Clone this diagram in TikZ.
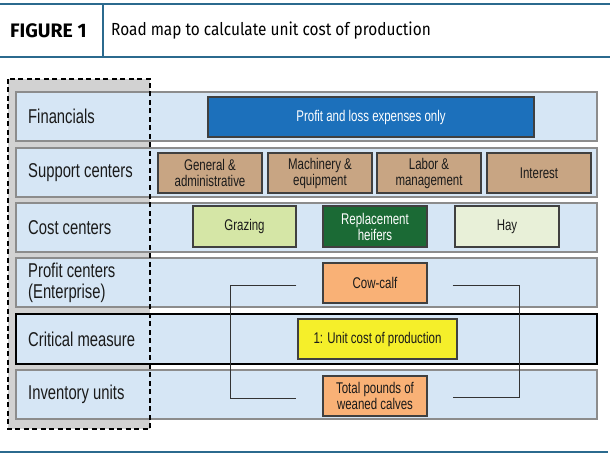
\documentclass[tikz,border=0pt]{standalone}
\usepackage{fontspec}
\setmainfont{Liberation Sans}[FakeStretch=0.74]
\newfontfamily\headfont{Fira Sans}
\newfontfamily\titlefont{Fira Sans}[FakeStretch=0.88]
\usepackage{tikz}
\usetikzlibrary{positioning,calc}
\definecolor{headline}{HTML}{2B6A8E}
\definecolor{rowfill}{HTML}{D6E6F5}
\definecolor{rowedge}{HTML}{8C8C8C}
\definecolor{colgray}{HTML}{D2D2D2}
\definecolor{finblue}{HTML}{1C70BB}
\definecolor{tan}{HTML}{C8A583}
\definecolor{grazegreen}{HTML}{D5E6A6}
\definecolor{heifgreen}{HTML}{1B6A35}
\definecolor{haygreen}{HTML}{E8F0D8}
\definecolor{cowor}{HTML}{F9B176}
\definecolor{measyel}{HTML}{F5EF2A}
\definecolor{ink}{HTML}{1A1A1A}
\tikzset{
    row/.style={draw=rowedge, line width=1.5pt, fill=rowfill, minimum width=581pt, minimum height=49pt, inner sep=0pt},
    rowcrit/.style={row, draw=black, line width=2.4pt, minimum height=50pt},
    rowlabel/.style={anchor=west, align=left, text=ink, font=\fontsize{20}{21}\selectfont, inner sep=0pt},
    box/.style={draw=black!75, line width=1.2pt, minimum width=104pt, minimum height=40pt, inner sep=0pt, align=center, text=ink, font=\fontsize{15.5}{16}\selectfont},
    boxW/.style={box, text=white},
    bracket/.style={draw=black!80, line width=0.9pt},
    rule/.style={draw=headline, line width=2pt},
}
\begin{document}
\begin{tikzpicture}[x=1pt, y=-1pt]
    \useasboundingbox (0,0) rectangle (610,457);

    % Header
    \draw[rule] (0,4) -- (610,4);
    \draw[rule] (0,57) -- (610,57);
    \draw[headline, line width=1.2pt] (103,4) -- (103,57);
    \node[font=\headfont\bfseries\fontsize{19.5}{20}\selectfont, anchor=west, inner sep=0pt] (fig) at (10,31) {FIGURE 1};
    \node[font=\titlefont\fontsize{17.5}{18}\selectfont, anchor=west, inner sep=0pt] (title) at (111,31) {Road map to calculate unit cost of production};

    % Grey column behind the labels
    \fill[colgray] (8,79) rectangle (150,429);

    % Rows
    \node[row] (fin) at (306.5,116.5) {};
    \node[row] (sup) at (306.5,172.5) {};
    \node[row] (cost) at (306.5,227.5) {};
    \node[row] (prof) at (306.5,282.5) {};
    \node[rowcrit] (crit) at (306.5,339) {};
    \node[row] (inv) at (306.5,394.5) {};

    \node[rowlabel] (lfin) at (28,116.5) {Financials};
    \node[rowlabel] (lsup) at (28,172.5) {Support centers};
    \node[rowlabel] (lcost) at (28,227.5) {Cost centers};
    \node[rowlabel] (lprof) at (28,282.5) {Profit centers\\(Enterprise)};
    \node[rowlabel] (lcrit) at (28,339) {Critical measure};
    \node[rowlabel] (linv) at (28,394.5) {Inventory units};

    % Financials
    \node[boxW, fill=finblue, minimum width=326pt] (pl) at (371,117) {Profit and loss expenses only};

    % Support centers
    \node[box, fill=tan] (ga) at (210,173) {General \&\\administrative};
    \node[box, fill=tan] (me) at (320,173) {Machinery \&\\equipment};
    \node[box, fill=tan] (lm) at (429,173) {Labor \&\\management};
    \node[box, fill=tan] (int) at (539,173) {Interest};

    % Cost centers
    \node[box, fill=grazegreen, minimum width=103pt, minimum height=41pt] (grz) at (244.5,226.5) {Grazing};
    \node[boxW, fill=heifgreen, minimum height=41pt] (rh) at (375,226.5) {Replacement\\heifers};
    \node[box, fill=haygreen, minimum height=41pt] (hay) at (507,226.5) {Hay};

    % Profit center, measure, inventory
    \node[box, fill=cowor] (cow) at (375,283) {Cow-calf};
    \node[box, fill=measyel, minimum width=159pt] (ucp) at (377.5,339) {1: Unit cost of production};
    \node[box, fill=cowor] (lbs) at (375,396) {Total pounds of\\weaned calves};

    % Brackets
    \draw[bracket] ([xshift=-26pt,yshift=-2pt]cow.west) -- ++(-66,0) |- ([xshift=-26pt,yshift=-2pt]lbs.west);
    \draw[bracket] ([xshift=25pt,yshift=-2pt]cow.east) -- ++(67,0) |- ([xshift=25pt,yshift=-1pt]lbs.east);

    % Dashed frame round the labels
    \draw[black, line width=2pt, dash pattern=on 5pt off 3.5pt] (8,79) rectangle (150,429);

    % Footer
    \draw[rule] (0,452) -- (608,452);
\end{tikzpicture}
\end{document}
